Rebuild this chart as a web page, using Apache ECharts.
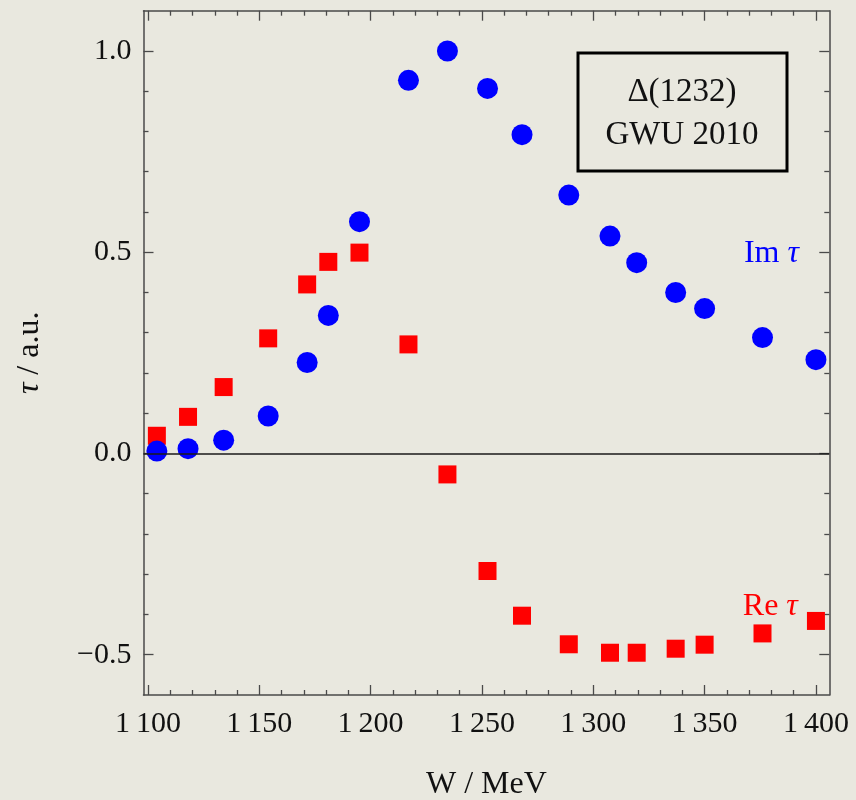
<!DOCTYPE html>
<html><head><meta charset="utf-8">
<script src="https://cdn.jsdelivr.net/npm/echarts@6/dist/echarts.min.js"></script>
<style>html,body{margin:0;padding:0;background:#e9e8df}#c{width:856px;height:800px}</style>
</head><body><div id="c"></div>
<script>
const energies = [1104, 1118, 1134, 1154, 1171.5, 1181, 1195, 1217, 1234.5, 1252.5, 1268, 1289, 1307.5, 1319.5, 1337, 1350, 1376, 1400];
const imTau = [0.006, 0.012, 0.033, 0.093, 0.226, 0.343, 0.576, 0.927, 1.0, 0.907, 0.792, 0.642, 0.540, 0.474, 0.400, 0.360, 0.288, 0.233];
const reTau = [0.044, 0.091, 0.165, 0.286, 0.420, 0.476, 0.499, 0.271, -0.052, -0.292, -0.403, -0.474, -0.495, -0.495, -0.485, -0.475, -0.447, -0.416];
const xMajorTicks = [1100, 1150, 1200, 1250, 1300, 1350, 1400];
const xMinorTicks = [1110, 1120, 1130, 1140, 1160, 1170, 1180, 1190, 1210, 1220, 1230, 1240, 1260, 1270, 1280, 1290, 1310, 1320, 1330, 1340, 1360, 1370, 1380, 1390];
const yMajorTicks = [-0.5, 0, 0.5, 1.0];
const yMinorTicks = [-0.4, -0.3, -0.2, -0.1, 0.1, 0.2, 0.3, 0.4, 0.6, 0.7, 0.8, 0.9];
const imLabel = {x: 1380, y: 0.497};
const reLabel = {x: 1379.5, y: -0.381};

const FONT = '"Liberation Serif", "DejaVu Serif", serif';
const AX = '#4a4a4a';
const xMin = 1098, xMax = 1406, yMin = -0.6, yMax = 1.1;

function xAx(pos, ticks, len, labels, showLine) {
  const a = {
    type: 'value', position: pos, min: xMin, max: xMax,
    axisLine: {show: showLine, onZero: false, lineStyle: {color: AX, width: 1.5}},
    axisTick: {show: true, inside: true, length: len, customValues: ticks, lineStyle: {color: AX, width: 1.3}},
    axisLabel: {show: labels, customValues: ticks, fontFamily: FONT, fontSize: 30, color: '#111', margin: 14,
      formatter: v => { const s = String(v); return s[0] + '\u2009' + s.slice(1); }},
    splitLine: {show: false}
  };
  if (labels) {
    a.name = 'W / MeV'; a.nameLocation = 'middle'; a.nameGap = 74;
    a.nameTextStyle = {fontFamily: FONT, fontSize: 32, color: '#111'};
  }
  return a;
}
function yAx(pos, ticks, len, labels, showLine) {
  const a = {
    type: 'value', position: pos, min: yMin, max: yMax,
    axisLine: {show: showLine, onZero: false, lineStyle: {color: AX, width: 1.5}},
    axisTick: {show: true, inside: true, length: len, customValues: ticks, lineStyle: {color: AX, width: 1.3}},
    axisLabel: {show: labels, customValues: ticks, fontFamily: FONT, fontSize: 30, color: '#111', margin: 12,
      formatter: v => (v < 0 ? '\u2212' : '') + Math.abs(v).toFixed(1)},
    splitLine: {show: false}
  };
  if (labels) {
    a.name = '{i|τ} / a.u.'; a.nameLocation = 'middle'; a.nameGap = 98;
    a.nameTextStyle = {fontFamily: FONT, fontSize: 32, color: '#111',
      rich: {i: {fontFamily: FONT, fontSize: 32, fontStyle: 'italic', color: '#111'}}};
  }
  return a;
}

const chart = echarts.init(document.getElementById('c'), null, {renderer: 'canvas'});
chart.setOption({
  backgroundColor: '#e9e8df',
  animation: false,
  grid: {left: 143.5, top: 10.7, width: 685.8, height: 684.3, containLabel: false, outerBoundsMode: 'none'},
  xAxis: [
    xAx('bottom', xMajorTicks, 10, true, true),
    xAx('bottom', xMinorTicks, 5, false, false),
    xAx('top', xMajorTicks, 10, false, true),
    xAx('top', xMinorTicks, 5, false, false)
  ],
  yAxis: [
    yAx('left', yMajorTicks, 10, true, true),
    yAx('left', yMinorTicks, 5, false, false),
    yAx('right', yMajorTicks, 10, false, true),
    yAx('right', yMinorTicks, 5, false, false)
  ],
  series: [
    {
      name: 'Re', type: 'scatter', xAxisIndex: 0, yAxisIndex: 0, z: 2,
      symbol: 'rect', symbolSize: 18,
      itemStyle: {color: '#ff0000', opacity: 1},
      data: energies.map((e, i) => [e, reTau[i]]),
      markLine: {silent: true, symbol: 'none', animation: false,
        data: [{yAxis: 0}], label: {show: false},
        lineStyle: {color: '#1a1a1a', width: 1.6, type: 'solid', opacity: 1}},
      markPoint: {silent: true, symbol: 'circle', symbolSize: 0,
        data: [{coord: [reLabel.x, reLabel.y]}],
        label: {show: true, position: 'inside', formatter: '{a|Re }{b|τ}',
          rich: {a: {fontFamily: FONT, fontSize: 32, color: '#ff0000'},
                 b: {fontFamily: FONT, fontSize: 32, fontStyle: 'italic', color: '#ff0000'}}}}
    },
    {
      name: 'Im', type: 'scatter', xAxisIndex: 0, yAxisIndex: 0, z: 3,
      symbol: 'circle', symbolSize: 21,
      itemStyle: {color: '#0000ff', opacity: 1},
      data: energies.map((e, i) => [e, imTau[i]]),
      markPoint: {silent: true, symbol: 'circle', symbolSize: 0,
        data: [{coord: [imLabel.x, imLabel.y]}],
        label: {show: true, position: 'inside', formatter: '{a|Im }{b|τ}',
          rich: {a: {fontFamily: FONT, fontSize: 32, color: '#0000ff'},
                 b: {fontFamily: FONT, fontSize: 32, fontStyle: 'italic', color: '#0000ff'}}}}
    }
  ],
  graphic: [
    {type: 'rect', shape: {x: 578, y: 53, width: 209, height: 118},
      style: {fill: 'none', stroke: '#000', lineWidth: 3}, z: 10},
    {type: 'text', x: 682, y: 92, z: 10,
      style: {text: 'Δ(1232)', font: '33px ' + FONT, fill: '#111', textAlign: 'center', textVerticalAlign: 'middle'}},
    {type: 'text', x: 682, y: 135, z: 10,
      style: {text: 'GWU 2010', font: '33px ' + FONT, fill: '#111', textAlign: 'center', textVerticalAlign: 'middle'}}
  ]
});
</script></body></html>
